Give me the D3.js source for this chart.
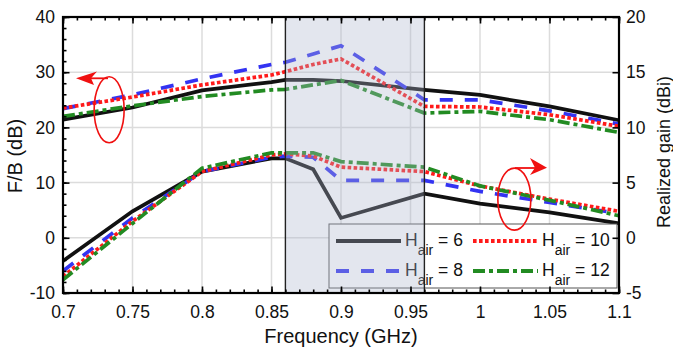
<!DOCTYPE html>
<html>
<head>
<meta charset="utf-8">
<script src="https://cdn.jsdelivr.net/npm/d3@7"></script>
<style>
  body { margin: 0; background: #fff; }
  text { font-family: "Liberation Sans", Arial, sans-serif; fill: #111; }
</style>
</head>
<body>
<div id="chart"></div>
<script>
/*
DATA
*/
const freq = [0.7, 0.75, 0.8, 0.85, 0.86, 0.88, 0.9, 0.96, 1.0, 1.05, 1.1];

// F/B (dB), left axis
const fb6 = [21.4, 23.6, 26.7, 28.2, 28.6, 28.6, 28.4, 26.8, 25.9, 23.8, 21.3];
const fb8 = [23.4, 25.9, 28.8, 31.4, 31.8, 33.3, 34.8, 25.0, 25.0, 23.0, 20.6];
const fb10 = [23.5, 25.5, 27.7, 29.5, 30.1, 31.4, 32.4, 23.8, 23.7, 22.3, 20.2];
const fb12 = [22.0, 23.9, 25.6, 26.8, 26.9, 27.7, 28.5, 22.6, 22.9, 21.4, 19.1];

// Realized gain (dBi), right axis
const gain6 = [-2.1, 2.4, 6.0, 7.2, 7.2, 6.2, 1.8, 4.0, 3.1, 2.3, 1.3];
const gain8 = [-3.0, 1.8, 6.0, 7.3, 7.4, 7.3, 5.2, 5.2, 4.2, 3.2, 2.2];
const gain10 = [-3.5, 1.5, 6.0, 7.5, 7.6, 7.4, 6.4, 6.0, 4.7, 3.5, 2.4];
const gain12 = [-3.8, 1.3, 6.3, 7.7, 7.7, 7.7, 6.9, 6.4, 4.7, 3.4, 2.0];

const hairLabels = ["6", "8", "10", "12"];
const xTicks = [0.7, 0.75, 0.8, 0.85, 0.9, 0.95, 1, 1.05, 1.1];
const yLeftTicks = [-10, 0, 10, 20, 30, 40];
const yRightTicks = [-5, 0, 5, 10, 15, 20];
const band = [0.86, 0.96];

/*
SET UP
*/
const w = 673;
const h = 347;
const m = { top: 17, right: 54, bottom: 54, left: 63 };
const fs = "17.5px";

const svg = d3.select("#chart").append("svg").attr("width", w).attr("height", h);

const x = d3.scaleLinear().domain([0.7, 1.1]).range([m.left, w - m.right]);
const yL = d3.scaleLinear().domain([-10, 40]).range([h - m.bottom, m.top]);
const yR = d3.scaleLinear().domain([-5, 20]).range([h - m.bottom, m.top]);

const styles = [
	{ color: "#111", dash: null },
	{ color: "#3333f2", dash: "13,12" },
	{ color: "#ff1a1a", dash: "3.6,2.4" },
	{ color: "#228b22", dash: "12,4,4,4" }
];

/*
GRID
*/
svg.append("g")
	.selectAll("line")
	.data(xTicks)
	.join("line")
	.attr("x1", (d) => x(d)).attr("x2", (d) => x(d))
	.attr("y1", m.top).attr("y2", h - m.bottom)
	.attr("stroke", "#dcdcdc").attr("stroke-width", 1.5);

svg.append("g")
	.selectAll("line")
	.data(yLeftTicks)
	.join("line")
	.attr("x1", m.left).attr("x2", w - m.right)
	.attr("y1", (d) => yL(d)).attr("y2", (d) => yL(d))
	.attr("stroke", "#dcdcdc").attr("stroke-width", 1.5);

/*
LINES
*/
const lineL = d3.line().x((d, i) => x(freq[i])).y((d) => yL(d));
const lineR = d3.line().x((d, i) => x(freq[i])).y((d) => yR(d));

function drawSeries(values, line, s) {
	svg.append("path")
		.attr("d", line(values))
		.attr("fill", "none")
		.attr("stroke", s.color)
		.attr("stroke-width", 3.7)
		.attr("stroke-dasharray", s.dash);
}

[fb6, fb8, fb10, fb12].forEach((v, i) => drawSeries(v, lineL, styles[i]));
[gain6, gain8, gain10, gain12].forEach((v, i) => drawSeries(v, lineR, styles[i]));

/*
LEGEND
*/
const leg = svg.append("g");
leg.append("rect")
	.attr("x", 329).attr("y", 224).attr("width", 288).attr("height", 64)
	.attr("fill", "#fff").attr("stroke", "#555").attr("stroke-width", 1);

const legPos = [
	{ x: 336, y: 241 },
	{ x: 336, y: 271 },
	{ x: 473, y: 241 },
	{ x: 473, y: 271 }
];

legPos.forEach((p, i) => {
	const s = styles[i];
	leg.append("line")
		.attr("x1", p.x).attr("x2", p.x + 65)
		.attr("y1", p.y).attr("y2", p.y)
		.attr("stroke", s.color).attr("stroke-width", 4)
		.attr("stroke-dasharray", s.dash);
	const t = leg.append("text")
		.attr("x", p.x + 69).attr("y", p.y + 5)
		.style("font-size", fs);
	t.append("tspan").text("H");
	t.append("tspan").attr("dy", 8.5).style("font-size", "14px").text("air");
	t.append("tspan").attr("dy", -8.5).text(" = " + hairLabels[i]);
});

/*
SHADED BAND
*/
svg.append("rect")
	.attr("x", x(band[0])).attr("y", m.top)
	.attr("width", x(band[1]) - x(band[0]))
	.attr("height", h - m.bottom - m.top)
	.attr("fill", "rgba(172,182,206,0.34)")
	.attr("stroke", "#222").attr("stroke-width", 1.4);

/*
AXES
*/
const xMinor = d3.range(70, 111).map((d) => d / 100);
const yMinor = d3.range(-10, 41, 2);

function tickStyle(g) {
	g.select(".domain").remove();
	g.selectAll(".tick line").attr("stroke", "#000").attr("stroke-width", 1.6);
	g.selectAll("text").style("font-size", fs).attr("fill", "#111");
}

const fmt = (d) => String(d);

svg.append("g")
	.attr("transform", `translate(0,${h - m.bottom})`)
	.call(d3.axisBottom(x).tickValues(xMinor).tickSize(-3.5).tickFormat(""))
	.call(tickStyle);
svg.append("g")
	.attr("transform", `translate(0,${h - m.bottom})`)
	.call(d3.axisBottom(x).tickValues(xTicks).tickSize(-6.5).tickPadding(13).tickFormat(fmt))
	.call(tickStyle);

svg.append("g")
	.attr("transform", `translate(0,${m.top})`)
	.call(d3.axisTop(x).tickValues(xMinor).tickSize(-3.5).tickFormat(""))
	.call(tickStyle);
svg.append("g")
	.attr("transform", `translate(0,${m.top})`)
	.call(d3.axisTop(x).tickValues(xTicks).tickSize(-6.5).tickFormat(""))
	.call(tickStyle);

svg.append("g")
	.attr("transform", `translate(${m.left},0)`)
	.call(d3.axisLeft(yL).tickValues(yMinor).tickSize(-3.5).tickFormat(""))
	.call(tickStyle);
svg.append("g")
	.attr("transform", `translate(${m.left},0)`)
	.call(d3.axisLeft(yL).tickValues(yLeftTicks).tickSize(-6.5).tickPadding(8).tickFormat(fmt))
	.call(tickStyle);

svg.append("g")
	.attr("transform", `translate(${w - m.right},0)`)
	.call(d3.axisRight(yR).tickValues(yRightTicks).tickSize(-6.5).tickPadding(7).tickFormat(fmt))
	.call(tickStyle);

// frame
svg.append("rect")
	.attr("x", m.left).attr("y", m.top)
	.attr("width", w - m.right - m.left).attr("height", h - m.bottom - m.top)
	.attr("fill", "none").attr("stroke", "#000").attr("stroke-width", 2.2);

/*
AXIS TITLES
*/
svg.append("text")
	.attr("x", 341).attr("y", 343)
	.attr("text-anchor", "middle").style("font-size", "20px")
	.text("Frequency (GHz)");

svg.append("text")
	.attr("transform", "translate(22,156) rotate(-90)")
	.attr("text-anchor", "middle").style("font-size", "20px")
	.text("F/B (dB)");

svg.append("text")
	.attr("transform", "translate(670,152) rotate(-90)")
	.attr("text-anchor", "middle").style("font-size", "18px")
	.text("Realized gain (dBi)");

/*
ANNOTATIONS (ellipses + arrows)
*/
const red = "#f01010";
svg.append("ellipse")
	.attr("cx", x(0.7332)).attr("cy", yL(23.2))
	.attr("rx", 15).attr("ry", 33)
	.attr("fill", "none").attr("stroke", red).attr("stroke-width", 1.6);
svg.append("line")
	.attr("x1", 108).attr("y1", 78.3).attr("x2", 90).attr("y2", 78.3)
	.attr("stroke", red).attr("stroke-width", 1.8);
svg.append("path")
	.attr("d", "M76,78.3 L97,71.5 L91,78.3 L94,85 Z")
	.attr("fill", red);

svg.append("ellipse")
	.attr("cx", x(1.0247)).attr("cy", yR(3.5))
	.attr("rx", 16.5).attr("ry", 31)
	.attr("fill", "none").attr("stroke", red).attr("stroke-width", 1.6);
svg.append("line")
	.attr("x1", 515).attr("y1", 168).attr("x2", 536).attr("y2", 168)
	.attr("stroke", red).attr("stroke-width", 1.8);
svg.append("path")
	.attr("d", "M547,167.7 L530,158 L535,167.7 L530,175 Z")
	.attr("fill", red);
</script>
</body>
</html>
